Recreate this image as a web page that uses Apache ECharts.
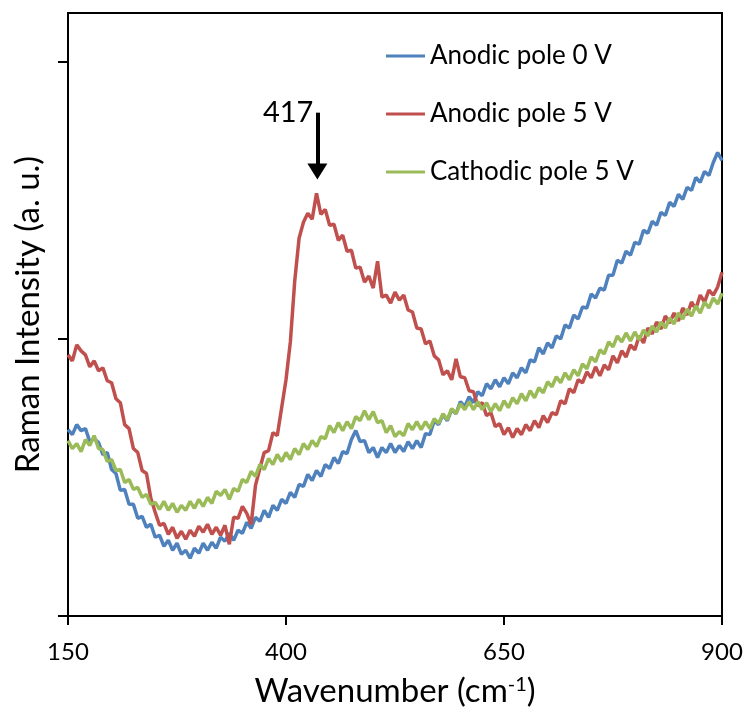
<!DOCTYPE html>
<html>
<head>
<meta charset="utf-8">
<script src="https://cdn.jsdelivr.net/npm/echarts@6/dist/echarts.min.js"></script>
<style>
html,body{margin:0;padding:0;background:#fff;}
#chart{width:747px;height:713px;}
</style>
</head>
<body>
<div id="chart"></div>
<script>
// Wavenumber grid (cm-1)
const wavenumbers = [
150,155,160,165,170,175,180,185,190,195,200,205,210,215,220,225,230,235,240,245,
250,255,260,265,270,275,280,285,290,295,300,305,310,315,320,325,330,335,340,345,
350,355,360,365,370,375,380,385,390,395,400,405,410,415,420,425,430,435,440,445,
450,455,460,465,470,475,480,485,490,495,500,505,510,515,520,525,530,535,540,545,
550,555,560,565,570,575,580,585,590,595,600,605,610,615,620,625,630,635,640,645,
650,655,660,665,670,675,680,685,690,695,700,705,710,715,720,725,730,735,740,745,
750,755,760,765,770,775,780,785,790,795,800,805,810,815,820,825,830,835,840,845,
850,855,860,865,870,875,880,885,890,895,900];

// Raman intensity (a. u.)
const anodic0V = [
187,182,192,186,188,175,178,174,162,164,147,143,126,127,112,112,98,100,89,92,
79,81,70,76,66,73,62,66,58,68,63,73,66,74,68,79,75,83,76,86,
83,94,88,99,95,106,99,111,106,117,113,124,119,132,130,142,136,146,140,152,
148,159,153,165,163,177,186,175,176,164,169,159,169,164,173,164,171,165,175,168,
176,169,183,182,196,192,202,196,207,203,215,210,220,214,225,221,233,228,237,230,
239,233,244,239,249,244,257,255,269,263,274,269,281,278,292,289,302,298,310,309,
323,319,329,327,342,342,357,354,366,362,375,373,387,384,396,392,405,402,415,411,
423,418,430,427,440,435,446,442,455,465,457];

const anodic5V = [
262,256,272,266,262,250,256,246,249,236,234,218,214,192,188,168,164,146,143,118,
104,91,93,82,89,78,85,77,86,80,90,84,92,82,89,81,91,72,99,98,
110,103,92,131,148,164,166,184,181,209,237,275,336,379,395,404,398,424,403,408,
392,393,377,382,366,367,349,350,335,341,329,356,320,322,314,325,317,322,307,305,
289,288,273,276,261,257,242,246,237,258,240,239,226,225,211,214,201,204,190,193,
182,189,179,188,182,192,186,196,189,201,194,204,202,216,213,228,224,237,234,245,
239,250,241,252,247,261,254,266,260,272,267,281,274,289,283,295,288,301,294,304,
296,309,302,315,308,322,315,327,322,330,345];

const cathodic5V = [
176,168,173,165,177,171,181,168,167,155,157,146,147,134,137,127,129,119,122,112,
114,107,115,106,113,104,111,106,115,108,117,110,119,113,125,121,127,117,128,125,
137,134,145,140,152,147,158,152,162,155,164,157,168,162,173,167,176,170,180,178,
191,184,194,186,195,188,200,196,206,197,205,194,196,184,191,180,185,181,193,187,
195,187,195,188,198,193,203,197,208,203,213,207,215,207,215,207,214,205,213,206,
216,209,219,213,223,216,226,219,229,224,235,230,240,234,244,237,247,241,253,248,
260,255,267,263,275,270,281,275,284,276,285,277,287,281,291,285,295,289,299,293,
304,298,308,301,311,304,315,309,319,313,324];

const seriesNames = ['Anodic pole 0 V', 'Anodic pole 5 V', 'Cathodic pole 5 V'];
const xTickValues = [150, 400, 650, 900];
const yTickValues = [0, 278, 556];
const peakLabel = '417';
const peakX = 436;
const arrowTop = 505;
const arrowEnd = 446;

const FONT = 'Lato';
const pair = arr => wavenumbers.map((w, i) => [w, arr[i]]);

const chart = echarts.init(document.getElementById('chart'), null, {renderer: 'canvas'});
chart.setOption({
  animation: false,
  backgroundColor: '#fff',
  textStyle: {fontFamily: FONT, color: '#000'},
  grid: {left: 68, right: 25, top: 13, bottom: 95, show: true, borderColor: '#000', borderWidth: 2},
  legend: {
    orient: 'vertical', left: 386, top: 43, padding: 0,
    icon: 'rect', itemWidth: 39, itemHeight: 3, itemGap: 32,
    textStyle: {fontFamily: FONT, fontSize: 26, color: '#000', lineHeight: 26},
    data: seriesNames
  },
  xAxis: {
    type: 'value', min: 150, max: 900,
    name: 'Wavenumber (cm{sup|-1})',
    nameLocation: 'middle', nameGap: 59,
    nameTextStyle: {
      fontFamily: FONT, fontSize: 33, color: '#000',
      rich: {sup: {fontFamily: FONT, fontSize: 20, color: '#000', verticalAlign: 'top', lineHeight: 20}}
    },
    axisLine: {show: true, onZero: false, lineStyle: {color: '#000', width: 2}},
    axisTick: {show: true, length: 9, lineStyle: {color: '#000', width: 2}, customValues: xTickValues},
    axisLabel: {show: true, margin: 24, fontFamily: FONT, fontSize: 24, color: '#000', customValues: xTickValues},
    splitLine: {show: false}
  },
  yAxis: {
    type: 'value', min: 0, max: 605,
    name: 'Raman Intensity (a. u.)',
    nameLocation: 'middle', nameGap: 23, nameRotate: 90,
    nameTextStyle: {fontFamily: FONT, fontSize: 33, color: '#000'},
    axisLine: {show: true, onZero: false, lineStyle: {color: '#000', width: 2}},
    axisTick: {show: true, length: 10, lineStyle: {color: '#000', width: 2}, customValues: yTickValues},
    axisLabel: {show: false},
    splitLine: {show: false}
  },
  series: [
    {
      name: seriesNames[0], type: 'line', data: pair(anodic0V),
      showSymbol: false, symbol: 'none', color: '#4F81BD',
      lineStyle: {width: 3.5, color: '#4F81BD'}
    },
    {
      name: seriesNames[1], type: 'line', data: pair(anodic5V),
      showSymbol: false, symbol: 'none', color: '#C0504D',
      lineStyle: {width: 3.5, color: '#C0504D'},
      markLine: {
        silent: true, animation: false,
        symbol: ['none', 'triangle'], symbolSize: [20, 16],
        label: {show: false},
        lineStyle: {color: '#000', width: 4, type: 'solid'},
        data: [[{coord: [peakX, arrowTop]}, {coord: [peakX, arrowEnd]}]]
      },
      markPoint: {
        silent: true, animation: false,
        symbol: 'circle', symbolSize: 0,
        label: {show: true, position: 'left', distance: 4, formatter: peakLabel,
                fontFamily: FONT, fontSize: 29, color: '#000'},
        data: [{coord: [peakX, arrowTop]}]
      }
    },
    {
      name: seriesNames[2], type: 'line', data: pair(cathodic5V),
      showSymbol: false, symbol: 'none', color: '#9BBB59',
      lineStyle: {width: 3.5, color: '#9BBB59'}
    }
  ]
});
</script>
</body>
</html>
